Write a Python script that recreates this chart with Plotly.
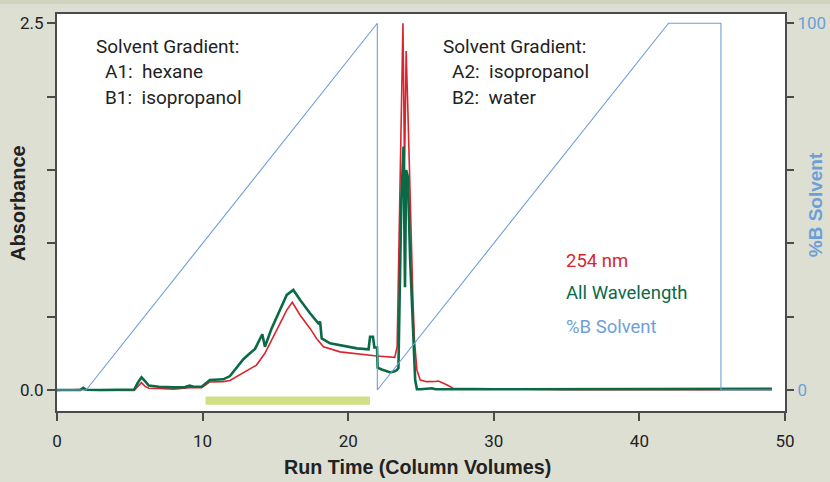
import plotly.graph_objects as go

# ---------------- data ----------------
green_x = [0, 1.6, 1.8, 2.0, 3.0, 4.0, 5.3, 5.55, 5.8, 6.05, 6.3, 7.0, 8.0, 8.8, 9.1, 9.4,
           9.93, 10.5, 11.42, 11.88, 12.8, 13.25, 13.6, 14.1, 14.28, 14.74, 15.3, 15.78, 16.23,
           16.7, 17.38, 17.95, 18.07, 18.18, 18.75, 20.6, 21.4, 21.5, 21.7, 21.8, 21.98, 22.02,
           22.3, 22.9, 23.2, 23.35, 23.45, 23.55, 23.65, 23.8, 23.9, 23.98, 24.1, 24.25, 24.37,
           24.48, 24.6, 24.72, 25.0, 25.75, 26.0, 30, 40, 47.5, 47.75, 48.2, 49.1]
green_y = [0, 0, 0.015, 0.002, 0.0, 0.003, 0.003, 0.05, 0.087, 0.06, 0.03, 0.022, 0.018, 0.02,
           0.03, 0.022, 0.023, 0.068, 0.073, 0.095, 0.21, 0.25, 0.28, 0.38, 0.295, 0.42, 0.545,
           0.648, 0.682, 0.613, 0.523, 0.455, 0.466, 0.352, 0.318, 0.284, 0.277, 0.363, 0.363,
           0.29, 0.29, 0.152, 0.14, 0.12, 0.128, 0.136, 0.15, 0.7, 1.3, 1.66, 0.70, 1.50, 1.45,
           0.9, 0.61, 0.295, 0.068, 0.005, 0.005, 0.012, 0.005, 0.005, 0.005, 0.005, 0.01,
           0.008, 0.008]

red_x = [0, 1.8, 2.0, 5.3, 5.55, 5.8, 6.05, 6.3, 7.0, 8.0, 9.1, 9.93, 10.5, 11.42, 11.88,
         13.14, 13.7, 14.28, 14.97, 15.78, 16.16, 16.7, 17.38, 17.84, 18.3, 19.44, 21.97, 23.2,
         23.36, 23.45, 23.6, 23.76, 23.87, 23.98, 24.1, 24.26, 24.44, 24.55, 24.72, 24.95, 25.4,
         26.0, 26.2, 26.8, 27.2, 30, 35, 49.1]
red_y = [-0.003, 0.005, -0.002, -0.003, 0.025, 0.05, 0.025, 0.012, 0.01, 0.006, 0.015, 0.015,
         0.055, 0.057, 0.065, 0.136, 0.17, 0.25, 0.386, 0.545, 0.598, 0.51, 0.42, 0.35, 0.295,
         0.26, 0.232, 0.223, 0.295, 0.80, 1.6, 2.50, 1.5, 2.31, 1.9, 1.2, 0.636, 0.34, 0.136,
         0.068, 0.057, 0.058, 0.061, 0.034, 0.012, 0.008, 0.003, 0.003]

solvent_x = [0, 2.0, 22.0, 22.0, 42.0, 45.6, 45.6, 49.1]
solvent_y = [0, 0, 100, 0, 100, 100, 0, 0]

fraction_start = 10.2
fraction_end = 21.5

x_ticks = [0, 10, 20, 30, 40, 50]
y_ticks = [0, 0.5, 1.0, 1.5, 2.0, 2.5]
y_ticktext = ["0.0", "", "", "", "", "2.5"]
y2_ticks = [0, 20, 40, 60, 80, 100]
y2_ticktext = ["0", "", "", "", "", "100"]

# ---------------- style ----------------
RED = "#d8262f"
GREEN = "#0b6a46"
BLUE = "#6d9fd6"
AXIS = "#4a4a4a"
BG = "#dcdfd2"
FONT = "Roboto, Liberation Sans, Arial, sans-serif"
BFONT = "Liberation Sans, Arial, sans-serif"

fig = go.Figure()
fig.add_trace(go.Scatter(x=red_x, y=red_y, mode="lines", line=dict(color=RED, width=1.6),
                         name="254 nm", showlegend=False))
fig.add_trace(go.Scatter(x=green_x, y=green_y, mode="lines", line=dict(color=GREEN, width=2.6),
                         name="All Wavelength", showlegend=False))
fig.add_trace(go.Scatter(x=solvent_x, y=solvent_y, mode="lines", yaxis="y2",
                         line=dict(color=BLUE, width=1.1), name="%B Solvent", showlegend=False))

fig.add_shape(type="rect", xref="x", yref="y", x0=fraction_start, x1=fraction_end,
              y0=-0.1, y1=-0.045, fillcolor="#cfe086", line=dict(width=0), layer="above")

# top darker band
fig.add_shape(type="rect", xref="paper", yref="paper", x0=-0.1, x1=1.1, y0=1.025, y1=1.1,
              fillcolor="#d2d3bf", line=dict(width=0), layer="below")

fig.update_layout(
    width=830, height=482,
    margin=dict(l=57, r=45, t=14, b=71, autoexpand=False),
    paper_bgcolor=BG, plot_bgcolor="white",
    font=dict(family=FONT, color="#222", size=17),
    xaxis=dict(range=[0, 50], tickvals=x_ticks, showgrid=False, zeroline=False,
               showline=True, mirror=True, linecolor=AXIS, linewidth=2, automargin=False,
               ticks="outside", ticklen=8, tickwidth=1.5, tickcolor=AXIS,
               ticklabelstandoff=6, tickfont=dict(size=17, color="#222")),
    yaxis=dict(range=[-0.143, 2.563], tickvals=y_ticks, ticktext=y_ticktext,
               showgrid=False, zeroline=False, showline=True, mirror=True, automargin=False,
               linecolor=AXIS, linewidth=2, ticks="outside", ticklen=8, tickwidth=1.5,
               tickcolor=AXIS, tickfont=dict(size=17, color="#222")),
    yaxis2=dict(range=[-5.72, 102.52], overlaying="y", side="right", tickvals=y2_ticks,
                ticktext=y2_ticktext, showgrid=False, zeroline=False, showline=False,
                automargin=False, ticks="outside", ticklen=8, tickwidth=1.5, tickcolor=AXIS,
                tickfont=dict(size=17, color=BLUE)),
)

def txt(x, y, s, color="#222", size=19, xref="x", yref="y", xanchor="left", angle=0,
        bold=False, family=FONT):
    if bold:
        s = "<b>" + s + "</b>"
    fig.add_annotation(x=x, y=y, xref=xref, yref=yref, text=s, showarrow=False,
                       xanchor=xanchor, yanchor="middle", textangle=angle,
                       font=dict(family=family, size=size, color=color))

txt(2.52, 2.34, "Solvent Gradient:")
txt(3.14, 2.168, "A1: &nbsp;hexane")
txt(3.14, 1.993, "B1: &nbsp;isopropanol")
txt(26.39, 2.34, "Solvent Gradient:")
txt(27.0, 2.168, "A2: &nbsp;isopropanol")
txt(27.0, 1.993, "B2: &nbsp;water")

txt(34.85, 0.881, "254 nm", color=RED, size=18.5)
txt(34.85, 0.663, "All Wavelength", color=GREEN, size=18.5)
txt(34.85, 0.429, "%B Solvent", color=BLUE, size=18.5)

txt(-0.0536, 0.524, "Absorbance", xref="paper", yref="paper", xanchor="center", angle=-90,
    bold=True, size=20, family=BFONT)
txt(0.495, -0.141, "Run Time (Column Volumes)", xref="paper", yref="paper", xanchor="center",
    bold=True, size=19.7, family=BFONT)
txt(1.043, 0.519, "%B Solvent", color=BLUE, xref="paper", yref="paper", xanchor="center",
    angle=-90, bold=True, size=19, family=BFONT)

fig.write_html("out.html", config={"displayModeBar": False},
               post_script="document.body.style.margin='0';document.body.style.padding='0';"
                           "document.documentElement.style.overflow='hidden';")
